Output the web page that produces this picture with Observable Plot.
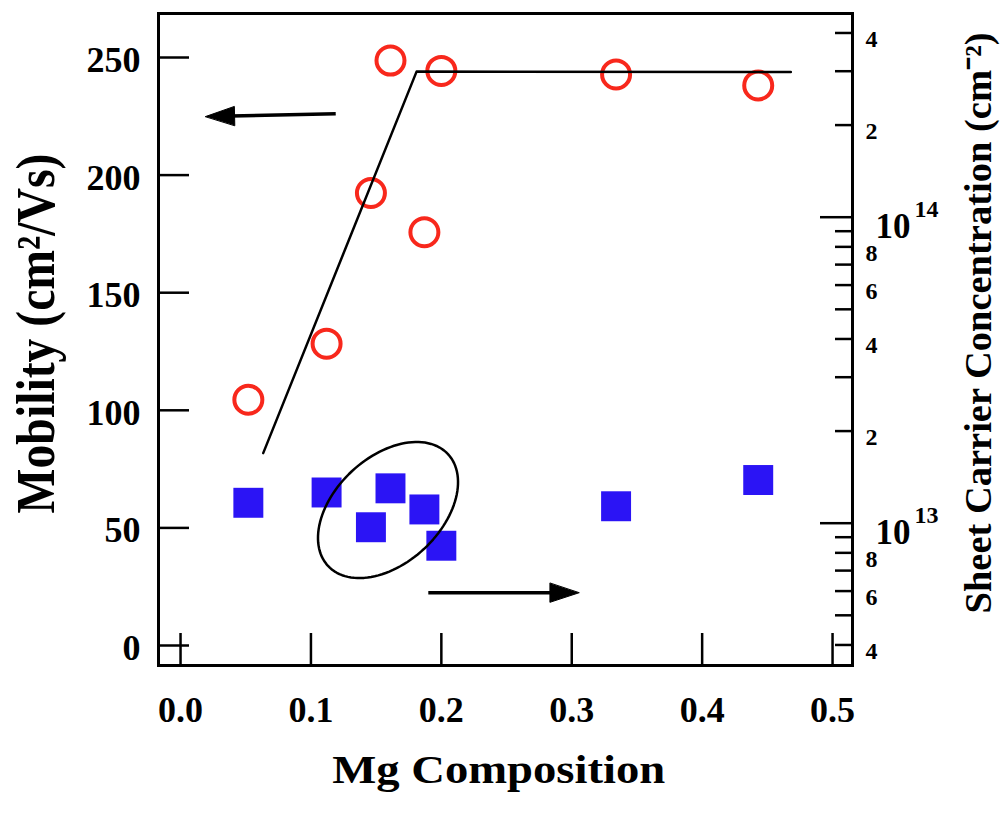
<!DOCTYPE html>
<html><head><meta charset="utf-8">
<script src="https://cdn.jsdelivr.net/npm/d3@7"></script>
<script src="https://cdn.jsdelivr.net/npm/@observablehq/plot@0.6"></script>
<style>body{margin:0;background:#fff} svg{display:block}</style>
</head><body><div id="chart"></div>
<script>
// ---- data ----
const mgComposition = [0.052, 0.112, 0.146, 0.161, 0.187, 0.200, 0.334, 0.443];
const mobility = [104.5, 128.3, 192.4, 248.7, 175.7, 244.3, 242.8, 238.1];          // cm2/Vs (left axis)
const sheetConcentration = [1.166e13, 1.26e13, 9.7e12, 1.30e13, 1.109e13, 8.44e12, 1.136e13, 1.384e13]; // cm^-2 (right axis)
const fitMg = [0.0634, 0.181, 0.468];
const fitMobility = [81.8, 244.0, 243.8];
const mobilityTicks = [0, 50, 100, 150, 200, 250];
const mgTicks = [0, 0.1, 0.2, 0.3, 0.4, 0.5];
const mgTickLabels = ["0.0", "0.1", "0.2", "0.3", "0.4", "0.5"];
const concMajorTicks = [1e13, 1e14];
const concMinorTicks = [4e12, 5e12, 6e12, 7e12, 8e12, 9e12, 2e13, 3e13, 4e13, 5e13, 6e13, 7e13, 8e13, 9e13, 2e14, 3e14, 4e14];
const concLabelTicks = [4e12, 6e12, 8e12, 2e13, 4e13, 6e13, 8e13, 2e14, 4e14];
const concLabels = ["4", "6", "8", "2", "4", "6", "8", "2", "4"];
const decadeBase = ["10", "10"];
const decadeExp = ["13", "14"];
const xTitle = "Mg Composition";
const yTitle = "Mobility (cm\u00B2/Vs)";
const y2Title = "Sheet Carrier Concentration (cm\u207B\u00B2)";
// annotations (data units: Mg, mobility)
const arrowStarts = [[0.119, 226.1], [0.190, 22.4]];
const arrowTips = [[0.0192, 224.9], [0.3055, 22.4]];
const ellipseCenter = [0.1591, 57.6];

// ---- layout ----
const W = 1004, H = 813, mL = 158, mR = 152, mT = 13, mB = 148;
const xDomain = [-0.0169, 0.5153], yDomain = [-8.503, 268.71];
const kx = (W - mL - mR) / (xDomain[1] - xDomain[0]);
const ky = (H - mT - mB) / (yDomain[1] - yDomain[0]);
const [xMin, xMax] = xDomain, [yMin, yMax] = yDomain;
// right log axis mapped onto left units
const toLeft = c => 52.0 + (Math.log10(c) - 13) * 130.1;

const points = mgComposition.map((m, i) => ({mg: m, mob: mobility[i], conc: sheetConcentration[i]}));
const fit = fitMg.map((m, i) => ({mg: m, mob: fitMobility[i]}));

// ellipse (pixel semi-axes, screen tilt)
const ea = 82, eb = 53, th = -43 * Math.PI / 180;
const ellipse = d3.range(0, 121).map(i => {
  const t = i / 120 * 2 * Math.PI;
  const px = ea * Math.cos(t) * Math.cos(th) - eb * Math.sin(t) * Math.sin(th);
  const py = ea * Math.cos(t) * Math.sin(th) + eb * Math.sin(t) * Math.cos(th);
  return {mg: ellipseCenter[0] + px / kx, mob: ellipseCenter[1] - py / ky};
});

// arrows
const headLen = 29, headHalf = 9.5;
const shafts = [], heads = [];
arrowStarts.forEach((s, i) => {
  const tip = arrowTips[i];
  let ux = (tip[0] - s[0]) * kx, uy = -(tip[1] - s[1]) * ky;
  const n = Math.hypot(ux, uy); ux /= n; uy /= n;
  const toData = (px, py) => [tip[0] + px / kx, tip[1] - py / ky];
  const shaftEnd = toData(-ux * (headLen - 4), -uy * (headLen - 4));
  shafts.push({x1: s[0], y1: s[1], x2: shaftEnd[0], y2: shaftEnd[1]});
  const c1 = toData(-ux * headLen - uy * headHalf, -uy * headLen + ux * headHalf);
  const c2 = toData(-ux * headLen + uy * headHalf, -uy * headLen - ux * headHalf);
  heads.push({id: i, mg: tip[0], mob: tip[1]}, {id: i, mg: c1[0], mob: c1[1]}, {id: i, mg: c2[0], mob: c2[1]});
});

const serif = "Liberation Serif, Times New Roman, serif";
const txt = {fontFamily: serif, fontWeight: "bold", fill: "black"};

const chart = Plot.plot({
  width: W, height: H,
  marginLeft: mL, marginRight: mR, marginTop: mT, marginBottom: mB,
  x: {domain: xDomain, axis: null},
  y: {domain: yDomain, axis: null},
  style: {background: "white", color: "black"},
  marks: [
    Plot.ruleY(mobilityTicks, {y: d => d, x1: xMin, x2: xMin + 31 / kx, stroke: "black", strokeWidth: 2.5}),
    Plot.ruleX(mgTicks, {x: d => d, y1: yMin, y2: yMin + 32 / ky, stroke: "black", strokeWidth: 2.5}),
    Plot.ruleY(concMinorTicks, {y: toLeft, x1: xMax, x2: xMax - 17 / kx, stroke: "black", strokeWidth: 2.5}),
    Plot.ruleY(concMajorTicks, {y: toLeft, x1: xMax, x2: xMax - 32 / kx, stroke: "black", strokeWidth: 2.5}),
    Plot.frame({stroke: "black", strokeWidth: 3}),
    Plot.text(mobilityTicks, {x: xMin, y: d => d, text: d => String(d), textAnchor: "end", dx: -18, dy: 3, fontSize: 36, ...txt}),
    Plot.text(mgTicks, {x: d => d, y: yMin, text: (d, i) => mgTickLabels[i], dy: 45, fontSize: 36, ...txt}),
    Plot.text(concLabelTicks, {x: xMax, y: toLeft, text: (d, i) => concLabels[i], textAnchor: "start", dx: 13, dy: 6, fontSize: 24, ...txt}),
    Plot.text(concMajorTicks, {x: xMax, y: toLeft, text: (d, i) => decadeBase[i], textAnchor: "start", dx: 23, dy: 10, fontSize: 35, ...txt}),
    Plot.text(concMajorTicks, {x: xMax, y: toLeft, text: (d, i) => decadeExp[i], textAnchor: "start", dx: 62, dy: -8, fontSize: 24, ...txt}),
    Plot.text([yTitle], {frameAnchor: "left", dx: -122, dy: 174, rotate: -90, textAnchor: "start", fontSize: 54, ...txt}),
    Plot.text([xTitle], {frameAnchor: "bottom", dx: -173.3, dy: 117.5, textAnchor: "start", fontSize: 39, ...txt}),
    Plot.text([y2Title], {frameAnchor: "right", dx: 126, dy: 274, rotate: -90, textAnchor: "start", fontSize: 38, ...txt}),
    Plot.dot(points, {x: "mg", y: d => toLeft(d.conc), symbol: "square", r: 16.9, fill: "#2b14f5", stroke: "none"}),
    Plot.dot(points, {x: "mg", y: "mob", r: 14, fill: "none", stroke: "#f8281c", strokeWidth: 4}),
    Plot.line(fit, {x: "mg", y: "mob", stroke: "black", strokeWidth: 2.5}),
    Plot.line(ellipse, {x: "mg", y: "mob", stroke: "black", strokeWidth: 2.5, curve: "linear-closed"}),
    Plot.link(shafts, {x1: "x1", y1: "y1", x2: "x2", y2: "y2", stroke: "black", strokeWidth: 3.5}),
    Plot.line(heads, {x: "mg", y: "mob", z: "id", fill: "black", stroke: "black", strokeWidth: 1, curve: "linear-closed"})
  ]
});
document.getElementById("chart").appendChild(chart);
// stretch titles to the measured lengths
const lengths = {[xTitle]: 333, [yTitle]: 360, [y2Title]: 581};
d3.select(chart).selectAll("text").each(function() {
  const L = lengths[this.textContent];
  if (L) { this.setAttribute("textLength", L); this.setAttribute("lengthAdjust", "spacingAndGlyphs"); }
});
</script>
</body></html>
